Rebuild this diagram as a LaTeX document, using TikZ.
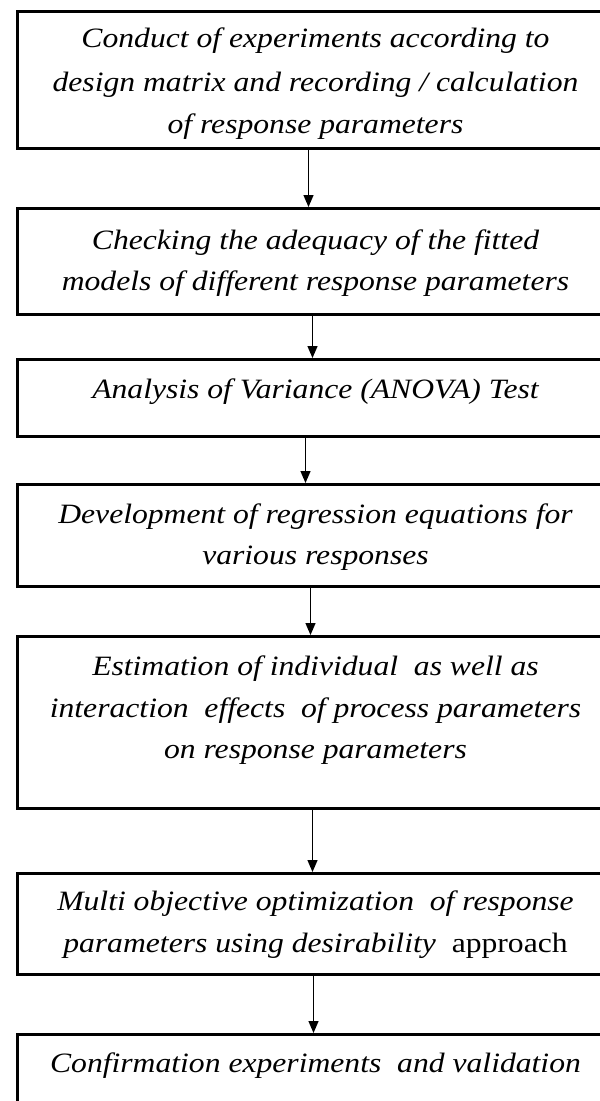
\documentclass[tikz,border=0pt]{standalone}
\usepackage{fontspec}
\setmainfont[FakeStretch=1.13]{Liberation Serif}
\usetikzlibrary{arrows.meta,calc}
\begin{document}
\begin{tikzpicture}[x=1pt,y=-1pt,
  stepbox/.style={draw=black,line width=3pt,rectangle,minimum width=597pt,inner sep=0pt,anchor=north west},
  steptext/.style={anchor=base,inner sep=0pt,align=center,font=\fontsize{28}{42}\selectfont\itshape},
  flowarrow/.style={line width=1.3pt,-{Triangle[length=12pt,width=10pt]}}]
\useasboundingbox (0,0) rectangle (600,1101);
\clip (0,0) rectangle (600,1101);
\fill[white] (0,0) rectangle (600,1101);
% boxes
\node[stepbox,minimum height=137.5pt] (b1) at (15.5,9.5) {};
\node[stepbox,minimum height=106pt] (b2) at (15.5,207) {};
\node[stepbox,minimum height=77pt] (b3) at (15.5,358) {};
\node[stepbox,minimum height=102pt] (b4) at (15.5,483) {};
\node[stepbox,minimum height=172pt] (b5) at (15.5,635) {};
\node[stepbox,minimum height=101pt] (b6) at (15.5,872) {};
\node[stepbox,minimum height=120pt] (b7) at (15.5,1033) {};
% texts (first baseline placed below box top)
\node[steptext] (t1) at ($(b1.north)+(0,38)$) {Conduct of experiments according to};
\node[steptext] (t1b) at ($(b1.north)+(0,82)$) {design matrix and recording / calculation};
\node[steptext] (t1c) at ($(b1.north)+(0,124)$) {of response parameters};
\node[steptext] (t2) at ($(b2.north)+(0,42)$) {Checking the adequacy of the fitted};
\node[steptext] (t2b) at ($(b2.north)+(0,83)$) {models of different response parameters};
\node[steptext] (t3) at ($(b3.north)+(0,40)$) {Analysis of Variance (ANOVA) Test};
\node[steptext] (t4) at ($(b4.north)+(0,40)$) {Development of regression equations for};
\node[steptext] (t4b) at ($(b4.north)+(0,81)$) {various responses};
\node[steptext] (t5) at ($(b5.north)+(0,40)$) {Estimation of individual\ \ as well as};
\node[steptext] (t5b) at ($(b5.north)+(0,82)$) {interaction\ \ effects\ \ of process parameters};
\node[steptext] (t5c) at ($(b5.north)+(0,123)$) {on response parameters};
\node[steptext] (t6) at ($(b6.north)+(0,38)$) {Multi objective optimization\ \ of response};
\node[steptext] (t6b) at ($(b6.north)+(0,80)$) {parameters using desirability\ \ \textup{approach}};
\node[steptext] (t7) at ($(b7.north)+(0,39)$) {Confirmation experiments\ \ and validation};
% arrows
\draw[flowarrow] ($(b1.south)+(-7,0)$) -- ($(b2.north)+(-7,0)$);
\draw[flowarrow] ($(b2.south)+(-3,0)$) -- ($(b3.north)+(-3,0)$);
\draw[flowarrow] ($(b3.south)+(-10,0)$) -- ($(b4.north)+(-10,0)$);
\draw[flowarrow] ($(b4.south)+(-5,0)$) -- ($(b5.north)+(-5,0)$);
\draw[flowarrow] ($(b5.south)+(-3,0)$) -- ($(b6.north)+(-3,0)$);
\draw[flowarrow] ($(b6.south)+(-2,0)$) -- ($(b7.north)+(-2,0)$);
\end{tikzpicture}
\end{document}
